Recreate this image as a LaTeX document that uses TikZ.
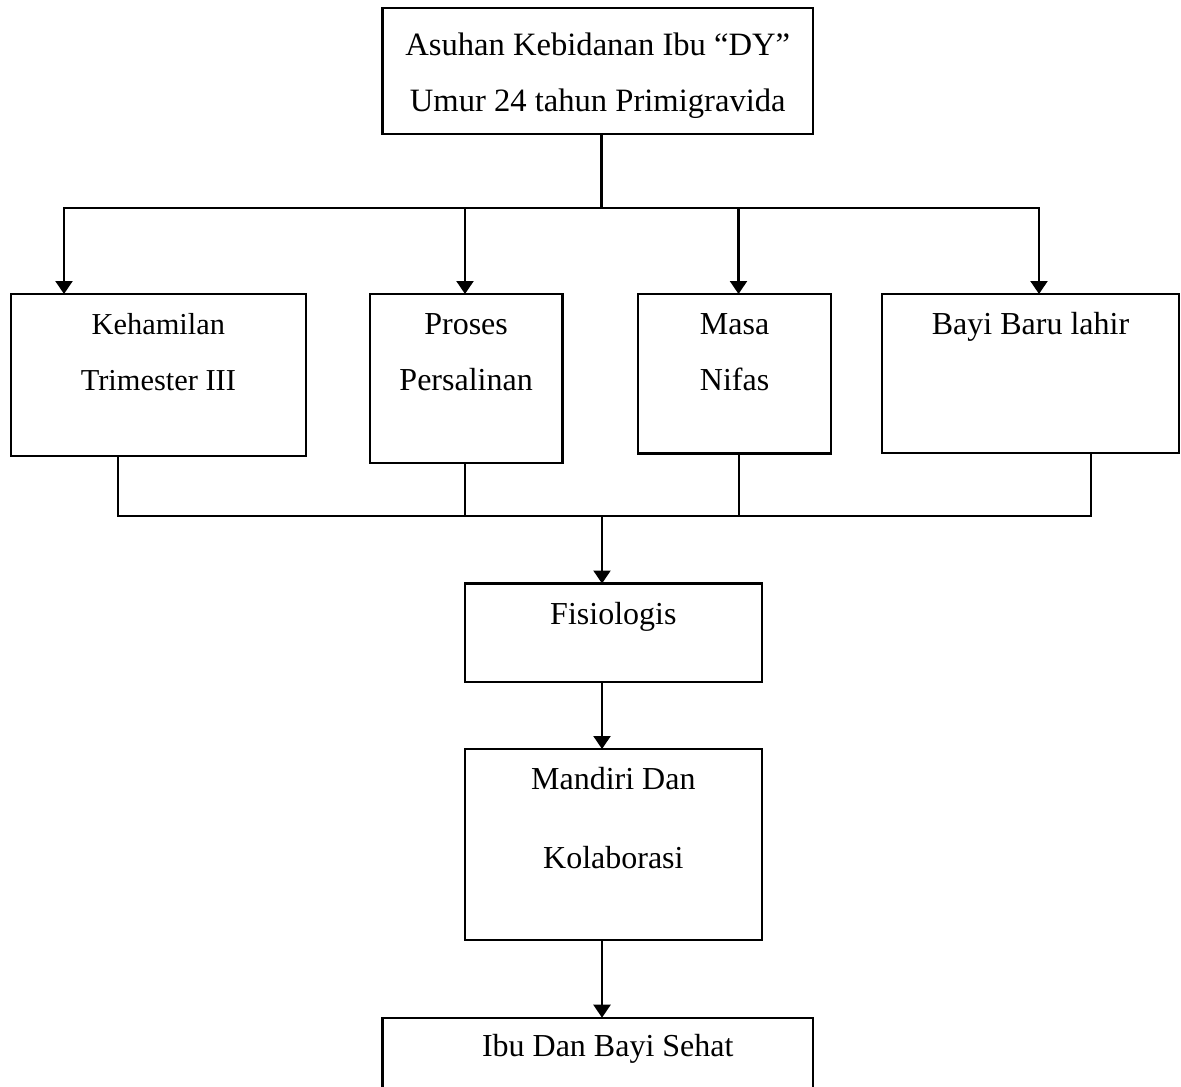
\documentclass[tikz,border=0pt]{standalone}
\usepackage{fontspec}
\setmainfont{Liberation Serif}
\usetikzlibrary{positioning}
\usetikzlibrary{arrows.meta}

\begin{document}
\begin{tikzpicture}[x=1pt,y=-1pt,line width=1.1pt,
    kotak/.style={draw,inner sep=0pt,outer sep=0pt,align=flush center,anchor=north west,
      font=\fontsize{16}{28}\selectfont},
    garis/.style={line cap=rect},
    panah/.style={-{Triangle[width=8.5pt,length=6.5pt]}}]
    \useasboundingbox (0,0) rectangle (590.5,543);
    % kotak-kotak
    \node[kotak,font=\fontsize{16.3}{28}\selectfont,text width=215.25pt,text height=24pt,text depth=39pt] (T) at (191.25,4)
        {Asuhan Kebidanan Ibu “DY”\\Umur 24 tahun Primigravida};
    \node[kotak,font=\fontsize{15.2}{28}\selectfont,text width=147.65pt,text height=20pt,text depth=61pt] (K) at (5.35,147)
        {Kehamilan\\Trimester III};
    \node[kotak,text width=96.4pt,text height=20pt,text depth=64.65pt] (P) at (184.85,147)
        {Proses\\Persalinan};
    \node[kotak,text width=96.25pt,text height=20pt,text depth=59.75pt] (M) at (319.15,147)
        {Masa\\Nifas};
    \node[kotak,text width=148.5pt,text height=20pt,text depth=59.35pt] (B) at (441,147)
        {Bayi Baru lahir};
    \node[kotak,text width=148.35pt,text height=20.4pt,text depth=28.7pt] (F) at (232.5,291.75)
        {Fisiologis};
    \node[kotak,text width=148.35pt,text height=20.15pt,text depth=75.35pt] (Md) [below=33.65pt of F]
        {Mandiri Dan\\[11.5pt]Kolaborasi};
    \node[kotak,text width=215.25pt,text height=19.5pt,text depth=31.65pt] (I) at (191.25,508.85)
        {\hspace*{10pt}Ibu Dan Bayi Sehat};
    % percabangan atas
    \coordinate (pusat) at (300.75,104);
    \coordinate (a1) at (32,104);
    \coordinate (a2) at (232.5,104);
    \coordinate (a3) at (369.25,104);
    \coordinate (a4) at (519.5,104);
    \draw[garis] (T.south -| pusat) -- (pusat);
    \draw[garis] (a1) -- (a4);
    \draw[panah] (a1) -- (a1 |- K.north);
    \draw[panah] (a2) -- (a2 |- P.north);
    \draw[panah] (a3) -- (a3 |- M.north);
    \draw[panah] (a4) -- (a4 |- B.north);
    % percabangan bawah
    \coordinate (tengah) at (301,258);
    \coordinate (b1) at (59,258);
    \coordinate (b2) at (232.65,258);
    \coordinate (b3) at (369.5,258);
    \coordinate (b4) at (545.35,258);
    \draw[garis] (b1) -- (b4);
    \draw (K.south -| b1) -- (b1);
    \draw (P.south -| b2) -- (b2);
    \draw (M.south -| b3) -- (b3);
    \draw (B.south -| b4) -- (b4);
    \draw[panah] (tengah) -- (tengah |- F.north);
    \draw[panah] (F.south -| tengah) -- (Md.north -| tengah);
    \draw[panah] (Md.south -| tengah) -- (I.north -| tengah);
\end{tikzpicture}
\end{document}
